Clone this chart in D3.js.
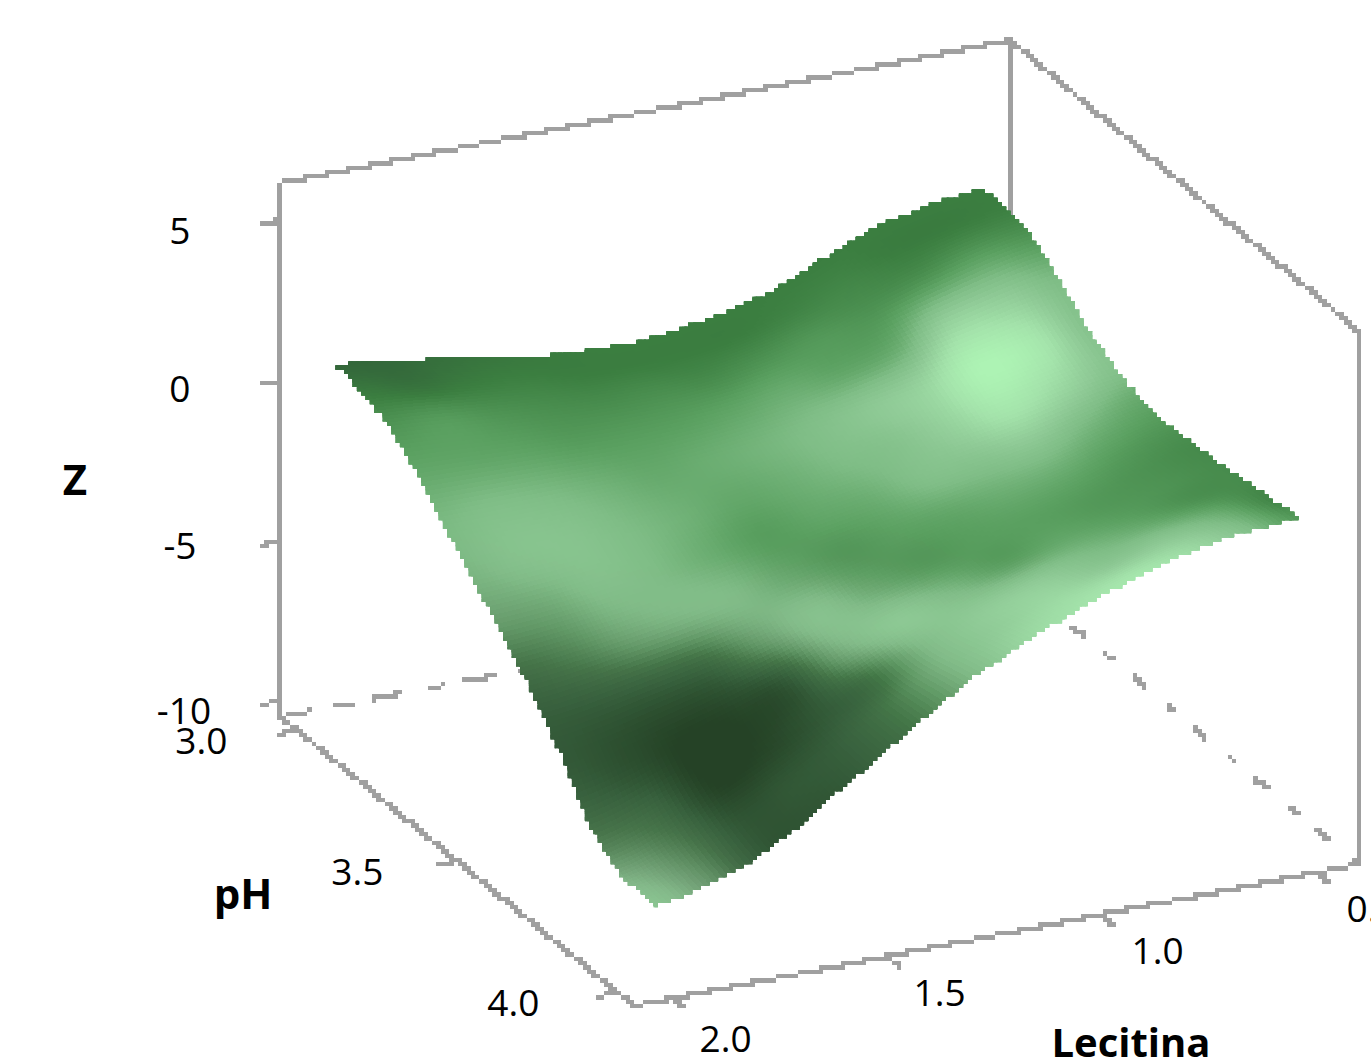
<!DOCTYPE html>
<html><head><meta charset="utf-8">
<script src="https://cdn.jsdelivr.net/npm/d3@7"></script>
<style>html,body{margin:0;padding:0;background:#fff;overflow:hidden}svg{display:block}text{font-family:"Open Sans",sans-serif;fill:#000}</style>
</head><body><svg id="c" width="1371" height="1061"></svg>
<script>
const phValues=[3,3.1667,3.3333,3.5,3.6667,3.8333,4];
const lecValues=[2,1.75,1.5,1.25,1,0.75,0.5];
const phTicks=[3,3.5,4];
const lecTicks=[2,1.5,1,0.5];
const zTicks=[5,0,-5,-10];
// rows: pH, columns: lecitina
const zRow30=[0.63,0.18,-0.36,-0.40,0.28,1.62,2.24];
const zRow32=[0.13,-0.18,-0.45,-0.43,0.19,1.20,1.95];
const zRow33=[-1.5,-1.48,-1.45,-1.13,-0.61,0.02,0.59];
const zRow35=[-3.25,-2.98,-2.55,-2.03,-1.51,-0.98,-0.28];
const zRow37=[-5.16,-4.58,-3.85,-2.93,-2.11,-1.28,-0.33];
const zRow38=[-7.56,-6.28,-4.80,-3.30,-2.01,-0.88,-0.16];
const zRow40=[-8.13,-7.17,-5.05,-2.90,-1.38,-0.32,0.08];
const zGrid=[zRow30,zRow32,zRow33,zRow35,zRow37,zRow38,zRow40];
const shadeGrid=[
[.12,.13,.16,.19,.21,.22,.22,.22,.22,.22,.22,.22,.22],
[.20,.17,.21,.23,.22,.22,.22,.22,.24,.25,.22,.22,.23],
[.30,.33,.30,.28,.27,.28,.27,.30,.32,.30,.33,.37,.32],
[.38,.38,.37,.34,.34,.35,.38,.42,.38,.42,.70,.66,.50],
[.48,.52,.50,.45,.40,.42,.46,.52,.60,.70,.97,.88,.55],
[.48,.55,.56,.50,.44,.39,.43,.50,.55,.68,.86,.74,.55],
[.38,.42,.52,.50,.42,.34,.38,.42,.52,.55,.60,.50,.40],
[.20,.27,.40,.48,.50,.40,.32,.35,.38,.42,.42,.36,.32],
[.10,.10,.12,.17,.38,.55,.42,.33,.34,.35,.33,.30,.27],
[.11,.05,.00,.02,.10,.45,.60,.50,.36,.38,.33,.30,.27],
[.27,.18,.00,.01,.08,.20,.50,.62,.62,.50,.40,.30,.27],
[.48,.30,.08,.08,.12,.25,.50,.65,.72,.60,.58,.45,.25],
[.58,.38,.10,.07,.12,.25,.50,.72,.80,.85,.75,.55,.32]];
const muteGrid=[
[0,0,0,0,0,0,0],
[0,0,0,0,0,0,0],
[0,0,0,0,0,0,0],
[.5,.2,0,0,0,0,0],
[.8,.7,.5,.2,0,0,0],
[.7,.7,.7,.3,.1,0,0],
[.6,.8,.7,.3,.1,0,0]];
const shadeStops=[0,0.12,0.22,0.35,0.5,0.62,0.8,1];
const shadeColors=["#254226","#33663a","#3b7e40","#5aa060","#7fbd86","#8fca96","#a3e2aa","#aef5b5"];
const boxPh=[2.952,4.055], boxLec=[2.09,0.406], boxZ=[-10.53,6.16];
const backLec=0.394;

const color=d3.scaleLinear().domain(shadeStops).range(shadeColors).clamp(true);
const pxX=d3.scaleLinear().domain([3,4]).range([0,320]);
const pyX=d3.scaleLinear().domain([3,4]).range([0,262]);
const lxX=d3.scaleLinear().domain([2,1]).range([0,430]);
const lyY=d3.scaleLinear().domain([2,1]).range([0,-84]);
const zY=d3.scaleLinear().domain([-10,5]).range([-17,-497]);
const project=(p,l,z)=>[335+pxX(p)+lxX(l),722+pyX(p)+lyY(l)+zY(z)];
const svg=d3.select("#c");
const grey="#a0a0a0";
const L=4.3;
const snap=v=>Math.round(v/L)*L;
function seg(g,a,b,dash){
 const len=Math.hypot(b[0]-a[0],b[1]-a[1]);
 const total=dash?d3.sum(dash):0;
 const seen=new Set();let d="";
 for(let t=0;t<=len;t+=1){
  if(dash){let r=t%total,on=true;for(const q of dash){if(r<q)break;r-=q;on=!on;}if(!on)continue;}
  const x=snap(a[0]+(b[0]-a[0])*t/len),y=snap(a[1]+(b[1]-a[1])*t/len),k=x+"_"+y;
  if(seen.has(k))continue;seen.add(k);
  d+=`M${x-L/2} ${y-L/2}h${L}v${L}h${-L}Z`;
 }
 g.append("path").attr("d",d).attr("fill",grey).attr("shape-rendering","crispEdges");
}
const [p0,p1]=boxPh,[l0,l1]=boxLec,[z0,z1]=boxZ;
const back=svg.append("g");
seg(back,project(p0,l0,z0),project(p0,backLec,z0),[30,26,16,22]);
seg(back,project(p0,backLec,z0),project(p1,l1,z0),[16,30,8,26]);
seg(back,project(p0,backLec,z0),project(p0,backLec,z1));
// surface
function cr(a,b,c,d,t){return 0.5*(2*b+(c-a)*t+(2*a-5*b+4*c-d)*t*t+(3*b-a-3*c+d)*t*t*t);}
function sample(G,u,v){
 const n=G.length-1,m=G[0].length-1;
 u=u*n;v=v*m;
 const i=Math.min(Math.floor(u),n-1),j=Math.min(Math.floor(v),m-1),fu=u-i,fv=v-j;
 const row=k=>{const r=G[Math.max(0,Math.min(n,k))];
  return cr(r[Math.max(0,j-1)],r[j],r[j+1],r[Math.min(m,j+2)],fv);};
 return cr(row(i-1),row(i),row(i+1),row(i+2),fu);
}
const N=140;
const phI=d3.scaleLinear().domain(phValues.map((_,i)=>i/(phValues.length-1))).range(phValues);
const lecI=d3.scaleLinear().domain(lecValues.map((_,i)=>i/(lecValues.length-1))).range(lecValues);
const pts=[];
for(let a=0;a<=N;a++){const r=[];for(let b=0;b<=N;b++){
 const u=a/N,v=b/N;r.push(project(phI(u),lecI(v),sample(zGrid,u,v)));}pts.push(r);}
const outline=[];
for(let b=0;b<=N;b++)outline.push(pts[0][b]);
for(let a=1;a<=N;a++)outline.push(pts[a][N]);
for(let b=N-1;b>=0;b--)outline.push(pts[N][b]);
for(let a=N-1;a>0;a--)outline.push(pts[a][0]);
const stair=d3.line().x(d=>snap(d[0])).y(d=>snap(d[1])).curve(d3.curveStepAfter);
svg.append("defs").append("clipPath").attr("id","surf").append("path")
 .attr("d",stair(outline)+"Z").attr("shape-rendering","crispEdges");
const cells=[],rim=[];
for(let a=0;a<N;a++)for(let b=0;b<N;b++){cells.push([a,b]);if(a==0||b==0||a==N-1||b==N-1)rim.push([a,b]);}
const unit=v=>Math.max(0,Math.min(1,v));
function cellColor([a,b]){
 const u=(a+.5)/N,v=(b+.5)/N,sh=sample(shadeGrid,u,v);
 const c=d3.hsl(color(sh));
 c.s*=1-0.45*unit(sample(muteGrid,u,v))*unit(sh/0.2)*unit((0.6-sh)/0.2);
 return c.formatHex();
}
const cellPath=([a,b])=>d3.line()([pts[a][b],pts[a][b+1],pts[a+1][b+1],pts[a+1][b]])+"Z";
const sg=svg.append("g").attr("clip-path","url(#surf)").attr("shape-rendering","crispEdges");
sg.append("g").selectAll("path").data(rim).join("path").attr("d",cellPath)
 .attr("fill",cellColor).attr("stroke",cellColor).attr("stroke-width",9);
sg.append("g").selectAll("path").data(cells).join("path").attr("d",cellPath)
 .attr("fill",cellColor).attr("stroke",cellColor).attr("stroke-width",1);
// front box
const front=svg.append("g");
seg(front,project(p0,l0,z0),project(p0,l0,z1));
seg(front,project(p0,l0,z1),project(p0,backLec,z1));
seg(front,project(p0,backLec,z1),project(p1,l1,z1));
seg(front,project(p1,l1,z1),project(p1,l1,z0));
seg(front,project(p0,l0,z0),project(p1,l0,z0));
seg(front,project(p1,l0,z0),project(p1,l1,z0));
function label(t,x,y,o){svg.append("text").attr("x",x).attr("y",y).attr("text-anchor","middle")
 .attr("font-size",(o&&o.size)||37).attr("font-weight",(o&&o.bold)?700:400).text(t);}
zTicks.forEach(z=>{const a=project(p0,l0,z);
 seg(front,a,[a[0]-19,a[1]+5]);
 label(z<0?"-"+Math.abs(z):z,a[0]-(z==-10?97:z==-5?101:101),a[1]+(z==5?24:z==0?22:z==-5?19:24));});
phTicks.forEach(p=>{const a=project(p,l0,z0);
 seg(front,a,[a[0]-18,a[1]+6]);
 label(p.toFixed(1),a[0]-95-8*(p-3),a[1]+24.5);});
lecTicks.forEach(l=>{const a=project(p1,l,z0);
 seg(front,a,[a[0]+11,a[1]+10]);
 label(l.toFixed(1),a[0]+(l==2?53:l==1.5?52:55),a[1]+(l==2?54:50));});
label("Z",75,495,{bold:1,size:42});
label("pH",243,909,{bold:1,size:42});
label("Lecitina",1131,1057,{bold:1,size:40});
</script></body></html>
